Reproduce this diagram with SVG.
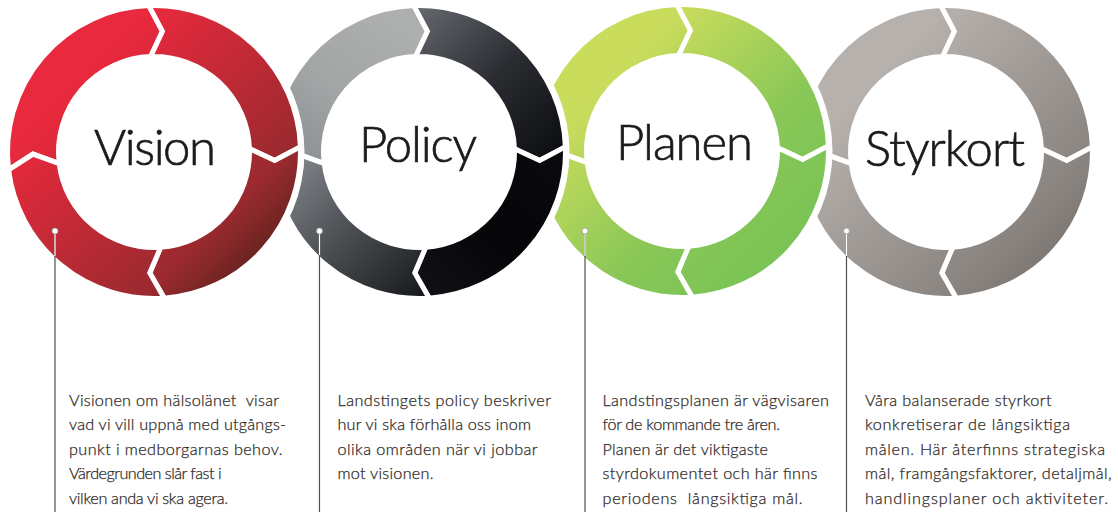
<svg xmlns="http://www.w3.org/2000/svg" width="1118" height="512" viewBox="0 0 1118 512">
  <style>
    .halo { fill: #ffffff; }
    .seg { stroke: #ffffff; stroke-width: 5; stroke-linejoin: miter; }
    .label { font-family: Lato, "Liberation Sans", sans-serif; font-weight: 300; font-size: 49px; fill: #1b1b1b; stroke: #1b1b1b; stroke-width: 0.7; text-anchor: middle; }
    .body { font-family: Lato, "Liberation Sans", sans-serif; font-weight: 300; font-size: 16.2px; fill: #2e2825; stroke: #2e2825; stroke-width: 0.25; }
    .lead { stroke: #4f4f4f; stroke-width: 1.2; fill: none; }
    .lead-in { stroke: #ffffff; stroke-width: 1.2; fill: none; }
    .dot { fill: #ffffff; stroke: #9a9a9a; stroke-width: 0.8; }
  </style>
  <defs>
    <!-- four arrow-shaped quarter segments of a cycle ring, centred on 0,0 -->
    <path id="seg1" d="M -145.408 17.854 A 146.5 146.5 0 0 1 -5.113 -146.411 L 8.440 -120.705 L -3.333 -95.442 A 95.5 95.5 0 0 0 -94.788 11.638 L -120.982 2.112 Z"/>
    <path id="seg2" d="M -5.113 -146.411 A 146.5 146.5 0 0 1 146.411 -5.113 L 120.705 8.440 L 95.442 -3.333 A 95.5 95.5 0 0 0 -3.333 -95.442 L 8.440 -120.705 Z"/>
    <path id="seg3" d="M 146.411 -5.113 A 146.5 146.5 0 0 1 10.219 146.143 L -4.223 120.926 L 6.662 95.267 A 95.5 95.5 0 0 0 95.442 -3.333 L 120.705 8.440 Z"/>
    <path id="seg4" d="M 10.219 146.143 A 146.5 146.5 0 0 1 -145.408 17.854 L -120.982 2.112 L -94.788 11.638 A 95.5 95.5 0 0 0 6.662 95.267 L -4.223 120.926 Z"/>

    <linearGradient id="gVision" gradientUnits="userSpaceOnUse" x1="-73" y1="-73" x2="103" y2="103">
      <stop offset="0" stop-color="#E9293D"/>
      <stop offset="0.8" stop-color="#9A2A2F"/>
      <stop offset="1" stop-color="#6A2420"/>
    </linearGradient>
    <linearGradient id="gPlanen" gradientUnits="userSpaceOnUse" x1="-73" y1="-73" x2="103" y2="103">
      <stop offset="0" stop-color="#CADC5C"/>
      <stop offset="0.6" stop-color="#88C757"/>
      <stop offset="1" stop-color="#7AC355"/>
    </linearGradient>
    <linearGradient id="gStyrkort" gradientUnits="userSpaceOnUse" x1="-73" y1="-73" x2="103" y2="103">
      <stop offset="0" stop-color="#B7B1AD"/>
      <stop offset="0.8" stop-color="#8B8682"/>
      <stop offset="1" stop-color="#7E7975"/>
    </linearGradient>
    <!-- the policy ring shades each segment separately -->
    <linearGradient id="gPolicy1" gradientUnits="userSpaceOnUse" x1="-140" y1="20" x2="-30" y2="-140">
      <stop offset="0" stop-color="#878B8F"/>
      <stop offset="0.5" stop-color="#A2A5A5"/>
      <stop offset="1" stop-color="#AEB0AF"/>
    </linearGradient>
    <linearGradient id="gPolicy2" gradientUnits="userSpaceOnUse" x1="0" y1="-146" x2="146" y2="0">
      <stop offset="0" stop-color="#65686C"/>
      <stop offset="0.5" stop-color="#2B2D32"/>
      <stop offset="1" stop-color="#0B0C10"/>
    </linearGradient>
    <linearGradient id="gPolicy3" gradientUnits="userSpaceOnUse" x1="146" y1="0" x2="0" y2="146">
      <stop offset="0" stop-color="#0A0B0F"/>
      <stop offset="0.5" stop-color="#050508"/>
      <stop offset="1" stop-color="#111216"/>
    </linearGradient>
    <linearGradient id="gPolicy4" gradientUnits="userSpaceOnUse" x1="-146" y1="0" x2="0" y2="146">
      <stop offset="0" stop-color="#8D9094"/>
      <stop offset="0.5" stop-color="#4E5155"/>
      <stop offset="1" stop-color="#181A1E"/>
    </linearGradient>
  </defs>

  <rect width="1118" height="512" fill="#ffffff"/>

  <!-- rings, drawn right to left so each one overlaps its right neighbour -->
  <g id="node-styrkort" transform="translate(946,152)">
    <circle class="halo" r="150.5"/>
    <use href="#seg1" class="seg" fill="url(#gStyrkort)"/>
    <use href="#seg2" class="seg" fill="url(#gStyrkort)"/>
    <use href="#seg3" class="seg" fill="url(#gStyrkort)"/>
    <use href="#seg4" class="seg" fill="url(#gStyrkort)"/>
    <text class="label" x="-1" y="14" textLength="160">Styrkort</text>
  </g>

  <g id="node-planen" transform="translate(682,151)">
    <circle class="halo" r="150.5"/>
    <use href="#seg1" class="seg" fill="url(#gPlanen)"/>
    <use href="#seg2" class="seg" fill="url(#gPlanen)"/>
    <use href="#seg3" class="seg" fill="url(#gPlanen)"/>
    <use href="#seg4" class="seg" fill="url(#gPlanen)"/>
    <text class="label" x="2.5" y="9" textLength="137">Planen</text>
  </g>

  <g id="node-policy" transform="translate(419,152)">
    <circle class="halo" r="150.5"/>
    <use href="#seg1" class="seg" fill="url(#gPolicy1)"/>
    <use href="#seg2" class="seg" fill="url(#gPolicy2)"/>
    <use href="#seg3" class="seg" fill="url(#gPolicy3)"/>
    <use href="#seg4" class="seg" fill="url(#gPolicy4)"/>
    <text class="label" x="-1" y="10" textLength="118">Policy</text>
  </g>

  <g id="node-vision" transform="translate(154,152)">
    <circle class="halo" r="150.5"/>
    <use href="#seg1" class="seg" fill="url(#gVision)"/>
    <use href="#seg2" class="seg" fill="url(#gVision)"/>
    <use href="#seg3" class="seg" fill="url(#gVision)"/>
    <use href="#seg4" class="seg" fill="url(#gVision)"/>
    <text class="label" x="1" y="13" textLength="122">Vision</text>
  </g>

  <!-- leader lines from each ring down to its description -->
  <g id="connectors">
    <line class="lead" x1="55" y1="231" x2="55" y2="512"/>
    <line class="lead-in" x1="55" y1="231" x2="55" y2="256"/>
    <circle class="dot" cx="55" cy="231" r="3"/>

    <line class="lead" x1="319.5" y1="231" x2="319.5" y2="512"/>
    <line class="lead-in" x1="319.5" y1="231" x2="319.5" y2="255"/>
    <circle class="dot" cx="319.5" cy="231" r="3"/>

    <line class="lead" x1="585" y1="231" x2="585" y2="512"/>
    <line class="lead-in" x1="585" y1="231" x2="585" y2="256"/>
    <circle class="dot" cx="585" cy="231" r="3"/>

    <line class="lead" x1="846.5" y1="231" x2="846.5" y2="512"/>
    <line class="lead-in" x1="846.5" y1="231" x2="846.5" y2="256"/>
    <circle class="dot" cx="846.5" cy="231" r="3"/>
  </g>

  <!-- descriptions -->
  <g id="text-vision" class="body">
    <text x="69" y="405.5" textLength="210">Visionen om hälsolänet&#160; visar</text>
    <text x="69" y="430" textLength="217">vad vi vill uppnå med utgångs-</text>
    <text x="69" y="454.5" textLength="213.5">punkt i medborgarnas behov.</text>
    <text x="69" y="479" textLength="152.5">Värdegrunden slår fast i</text>
    <text x="69" y="503.5" textLength="159">vilken anda vi ska agera.</text>
  </g>
  <g id="text-policy" class="body">
    <text x="337.5" y="405.5" textLength="213.5">Landstingets policy beskriver</text>
    <text x="337.5" y="430" textLength="193.5">hur vi ska förhålla oss inom</text>
    <text x="337.5" y="454.5" textLength="200">olika områden när vi jobbar</text>
    <text x="337.5" y="479" textLength="96">mot visionen.</text>
  </g>
  <g id="text-planen" class="body">
    <text x="602.5" y="405.5" textLength="226.5">Landstingsplanen är vägvisaren</text>
    <text x="602.5" y="430" textLength="177.5">för de kommande tre åren.</text>
    <text x="602.5" y="454.5" textLength="165.5">Planen är det viktigaste</text>
    <text x="602.5" y="479" textLength="215">styrdokumentet och här finns</text>
    <text x="602.5" y="503.5" textLength="200">periodens&#160; långsiktiga mål.</text>
  </g>
  <g id="text-styrkort" class="body">
    <text x="865" y="405.5" textLength="186.5">Våra balanserade styrkort</text>
    <text x="865" y="430" textLength="205">konkretiserar de långsiktiga</text>
    <text x="865" y="454.5" textLength="240">målen. Här återfinns strategiska</text>
    <text x="865" y="479" textLength="246.5">mål, framgångsfaktorer, detaljmål,</text>
    <text x="865" y="503.5" textLength="243">handlingsplaner och aktiviteter.</text>
  </g>
</svg>
